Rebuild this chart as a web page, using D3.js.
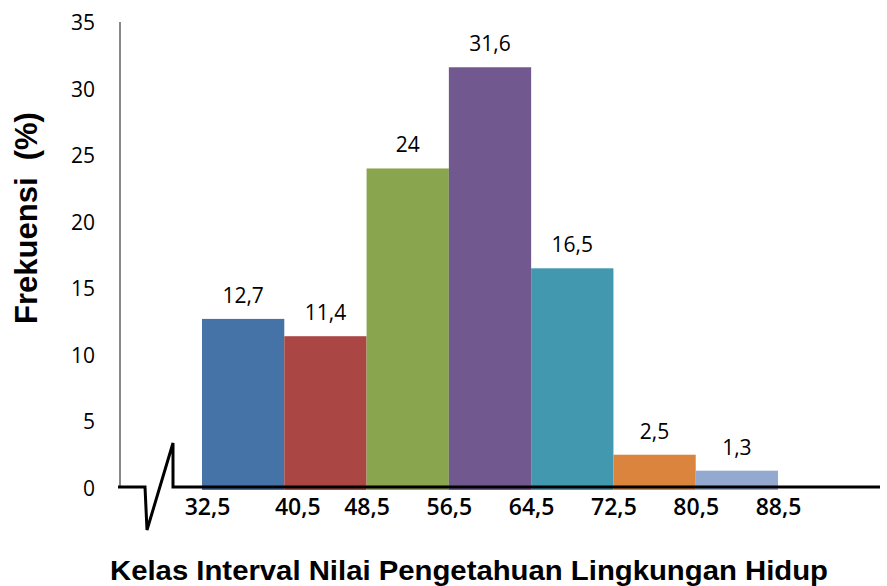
<!DOCTYPE html>
<html><head><meta charset="utf-8">
<script src="https://cdn.jsdelivr.net/npm/d3@7"></script>
<style>body{margin:0;background:#fff}svg{display:block}</style>
</head><body>
<svg id="c" width="887" height="586"></svg>
<script>
const classEdges = [32.5, 40.5, 48.5, 56.5, 64.5, 72.5, 80.5, 88.5];
const edgeLabels = ["32,5","40,5","48,5","56,5","64,5","72,5","80,5","88,5"];
const frequencies = [12.7, 11.4, 24, 31.6, 16.5, 2.5, 1.3];
const valueLabels = ["12,7","11,4","24","31,6","16,5","2,5","1,3"];
const barColors = ["#4572A7","#AA4643","#89A54E","#71588F","#4198AF","#DB843D","#93A9CF"];
const yTicks = [0,5,10,15,20,25,30,35];

const svg = d3.select("#c");
const x = d3.scaleLinear().domain([32.5, 88.5]).range([202, 778]);
const y = d3.scaleLinear().domain([0, 35]).range([488, 22]);
const tickFont = "'Open Sans', 'DejaVu Sans', sans-serif";

// y axis line
svg.append("line").attr("x1",120).attr("x2",120).attr("y1",y(35)).attr("y2",y(0))
  .attr("stroke","#888").attr("stroke-width",2);

// y tick labels
const yAxis = d3.axisLeft(y).tickValues(yTicks).tickSize(0).tickPadding(0).tickFormat(d3.format("d"));
const ga = svg.append("g").attr("transform","translate(95,0)").call(yAxis);
ga.select(".domain").remove();
ga.selectAll("text").attr("font-family",tickFont).attr("font-size",21).attr("fill","#000")
  .attr("dy","0.36em");

// bars
const bars = frequencies.map((v,i)=>({v, x0: classEdges[i], x1: classEdges[i+1], c: barColors[i], lab: valueLabels[i]}));
svg.selectAll("rect.bar").data(bars).join("rect").attr("class","bar")
  .attr("x",d=>x(d.x0)).attr("width",d=>x(d.x1)-x(d.x0))
  .attr("y",d=>y(d.v)).attr("height",d=>y(0)-y(d.v)+2)
  .attr("fill",d=>d.c);

// value labels
svg.selectAll("text.val").data(bars).join("text").attr("class","val")
  .attr("x",d=>(x(d.x0)+x(d.x1))/2).attr("y",d=>y(d.v)-16)
  .attr("text-anchor","middle").attr("font-family",tickFont).attr("font-size",21)
  .attr("fill","#000").text(d=>d.lab);

// x axis with break
const by = 487;
svg.append("path")
  .attr("d", `M118,${by} L145,${by} L147,530 L173,443 L173,${by} L880,${by}`)
  .attr("fill","none").attr("stroke","#000").attr("stroke-width",3).attr("stroke-linejoin","miter");

// x edge labels
const xAxis = d3.axisBottom(x).tickValues(classEdges).tickSize(0).tickPadding(0)
  .tickFormat((d,i)=>edgeLabels[i]);
const gx = svg.append("g").attr("transform","translate(0,499)").call(xAxis);
gx.select(".domain").remove();
gx.selectAll("text").attr("font-family",tickFont).attr("font-size",23).attr("font-weight",600)
  .attr("fill","#000").attr("dy","0.71em");
gx.selectAll(".tick").filter((d,i)=>i===0).select("text").attr("x",5);
gx.selectAll(".tick").filter((d,i)=>i===1).select("text").attr("x",13);

// axis titles
svg.append("text").attr("x",469).attr("y",580).attr("text-anchor","middle")
  .attr("font-family","'Liberation Sans Narrow', 'Liberation Sans', Arial, sans-serif")
  .attr("font-weight","bold").attr("font-size",28)
  .attr("textLength",718).attr("lengthAdjust","spacingAndGlyphs")
  .text("Kelas Interval Nilai Pengetahuan Lingkungan Hidup");

svg.append("text").attr("transform","translate(37,218) rotate(-90)").attr("text-anchor","middle")
  .attr("font-family","'Liberation Sans', Arial, sans-serif").attr("font-weight","bold")
  .attr("font-size",31).attr("xml:space","preserve").style("white-space","pre")
  .text("Frekuensi  (%)");
</script>
</body></html>
